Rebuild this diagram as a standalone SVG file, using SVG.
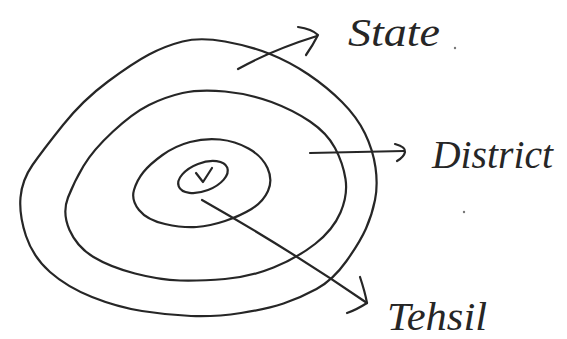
<svg xmlns="http://www.w3.org/2000/svg" width="567" height="339" viewBox="0 0 567 339">
<style>
.ln{fill:none;stroke:#262626;stroke-width:2.2;stroke-linecap:round;stroke-linejoin:round}
.lb{font-family:"Liberation Serif",serif;font-style:italic;font-size:40px;fill:#262626}
</style>
<rect width="567" height="339" fill="#ffffff"/>
<g id="state">
<path class="ln" d="M225,41.5 Q250,46 270,54 Q290,62 308.5,74.5 Q327,87 342,102 Q357,117 365,133.5 Q373,150 375.5,167.5 Q378,185 375,200 Q372,215 366,228.5 Q360,242 346.5,261 Q333,280 316.5,289 Q300,298 283.5,303.5 Q267,309 241,313 Q215,317 191,316 Q167,315 142,311 Q117,307 92,297 Q67,287 50,272 Q33,257 26,236 Q19,215 20.5,197.5 Q22,180 32.5,165 Q43,150 63,125 Q83,100 108,81.5 Q133,63 149,54.5 Q165,46 182.5,41.5 Q200,37 225,41.5 Z"/>
<text class="lb" x="348" y="46" textLength="92" lengthAdjust="spacingAndGlyphs">State</text>
</g>
<g id="district">
<path class="ln" d="M225,91.5 Q250,94 271.5,102 Q293,110 310,121.5 Q327,133 335,148 Q343,163 345.5,179 Q348,195 340.5,212.5 Q333,230 315,244 Q297,258 273.5,267.5 Q250,277 225,279 Q200,281 180,280.5 Q160,280 135,273.5 Q110,267 93.5,257 Q77,247 69.5,230 Q62,213 68,197.5 Q74,182 83.5,166 Q93,150 113,131.5 Q133,113 149,105 Q165,97 182.5,93 Q200,89 225,91.5 Z"/>
<text class="lb" x="432" y="168" textLength="121" lengthAdjust="spacingAndGlyphs">District</text>
</g>
<g id="tehsil">
<path class="ln" d="M220,139.5 Q235,141 248.5,148.5 Q262,156 267.5,168 Q273,180 268,191 Q263,202 251.5,209 Q240,216 225,221 Q210,226 196.5,227 Q183,228 165,224 Q147,220 139,210 Q131,200 134,190 Q137,180 143.5,172 Q150,164 162.5,155 Q175,146 190,142 Q205,138 220,139.5 Z"/>
<text class="lb" x="387" y="330" textLength="100" lengthAdjust="spacingAndGlyphs">Tehsil</text>
</g>
<g id="center">
<ellipse class="ln" cx="203" cy="177" rx="26" ry="14" transform="rotate(-21 203 177)"/>
<path class="ln" d="M196,173 L203,182 L212,168"/>
</g>
<g id="connectors">
<path class="ln" d="M238,69 Q272,50 317,36"/>
<path class="ln" d="M298,27 Q312,29 318,35 Q313,45 306,55"/>
<path class="ln" d="M310,153 L404,151"/>
<path class="ln" d="M395,144 Q406,147 405,152 Q404,157 397,161"/>
<path class="ln" d="M202,200 Q290,250 367,303"/>
<path class="ln" d="M360,277 Q365,292 367,303 Q356,310 347,313"/>
</g>
<circle cx="455" cy="48" r="1.2" fill="#777"/>
<circle cx="464" cy="212" r="1.2" fill="#777"/>
</svg>
